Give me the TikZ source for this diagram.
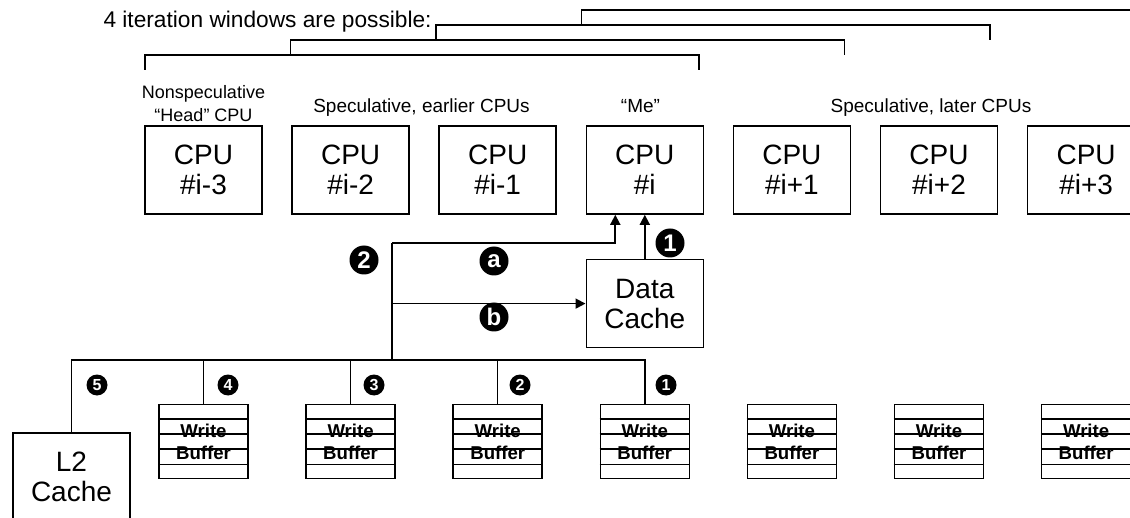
\documentclass[tikz,border=0pt]{standalone}
\usepackage{fontspec}
\setmainfont{Liberation Sans}
\usetikzlibrary{arrows.meta,positioning,calc}

\tikzset{
  cpubox/.style={draw,line width=0.8pt,minimum width=58.5pt,minimum height=44pt,align=center,inner sep=0pt,font=\fontsize{14}{15}\selectfont},
  wbuf/.style={draw,line width=0.8pt,minimum width=44.5pt,minimum height=37pt,align=center,inner sep=0pt,font=\fontsize{9.3}{11}\selectfont\bfseries},
  badge/.style={circle,fill=black,text=white,inner sep=0pt,minimum size=14.5pt,font=\fontsize{12}{12}\selectfont\bfseries},
  smallbadge/.style={badge,minimum size=10.5pt,font=\fontsize{8}{8}\selectfont\bfseries},
  tag/.style={align=center,inner sep=0pt,font=\fontsize{9.5}{11.5}\selectfont},
  wire/.style={line width=0.75pt},
  feed/.style={line width=0.9pt,-{Triangle[length=5pt,width=5pt]}}
}

\begin{document}
\begin{tikzpicture}[x=0.5pt,y=-0.5pt]
\clip (0,0) rectangle (1130,518);

% the CPUs
\node[cpubox] (cpu1) at (203.5,170) {CPU\\\#i-3};
\node[cpubox,right=14.25pt of cpu1] (cpu2) {CPU\\\#i-2};
\node[cpubox,right=14.25pt of cpu2] (cpu3) {CPU\\\#i-1};
\node[cpubox,right=14.25pt of cpu3] (cpu4) {CPU\\\#i};
\node[cpubox,right=14.25pt of cpu4] (cpu5) {CPU\\\#i+1};
\node[cpubox,right=14.25pt of cpu5] (cpu6) {CPU\\\#i+2};
\node[cpubox,right=14.25pt of cpu6] (cpu7) {CPU\\\#i+3};

\node[tag,anchor=south,font=\fontsize{9}{11.3}\selectfont] (lhead) at (203.5,122) {Nonspeculative\\“Head” CPU};
\node[tag,anchor=base] (learly) at (421.5,113) {Speculative, earlier CPUs};
\node[tag,anchor=base] (lme) at (640.5,113) {“Me”};
\node[tag,anchor=base] (llate) at (931,113) {Speculative, later CPUs};

% iteration windows
\node[anchor=base east,inner sep=0pt,font=\fontsize{11.35}{13}\selectfont] (title) at (432,28) {4 iteration windows are possible:};
\foreach \k in {0,...,3}
  \draw[wire] (145+145.5*\k,70-15*\k) |- (699+145.5*\k,55-15*\k) -- ++(0,15);

% caches and write buffers
\node[cpubox,below=22pt of cpu4] (dcache) {Data\\Cache};
\node[cpubox] (ltwo) at (71.5,477) {L2\\Cache};
\foreach \i in {1,...,7}
  \node[wbuf,below=94.5pt of cpu\i] (wb\i) {Write\\Buffer};
\foreach \i in {1,...,7}
  \foreach \k in {1,...,4}
    \draw[wire] ($(wb\i.north west)!\k/5!(wb\i.south west)$) -- ($(wb\i.north east)!\k/5!(wb\i.south east)$);

% buses
\coordinate (jn) at (392,360);
\coordinate (split) at (392,243);
\draw[wire] (ltwo.north) |- (jn) -| (wb4.north);
\foreach \i in {1,2,3}
  \draw[wire] (wb\i.north) -- (wb\i.north |- jn);
\draw[wire] (jn) -- (split);
\draw[feed] (split) -| ([xshift=-14.75pt]cpu4.south);
\draw[feed] (jn |- dcache.west) -- (dcache.west);
\draw[feed] (dcache.north) -- (cpu4.south);

% numbered paths
\node[badge] (n1up) at (670,243) {1};
\node[badge] (n2up) at (364,260) {2};
\node[badge] (na) at (494,261) {a};
\node[badge] (nb) at (494,317) {b};
\node[smallbadge] (n5) at (97,385) {5};
\node[smallbadge] (n4) at (228,385) {4};
\node[smallbadge] (n3) at (374,385) {3};
\node[smallbadge] (n2) at (520,385) {2};
\node[smallbadge] (n1) at (666,385) {1};

\end{tikzpicture}
\end{document}
